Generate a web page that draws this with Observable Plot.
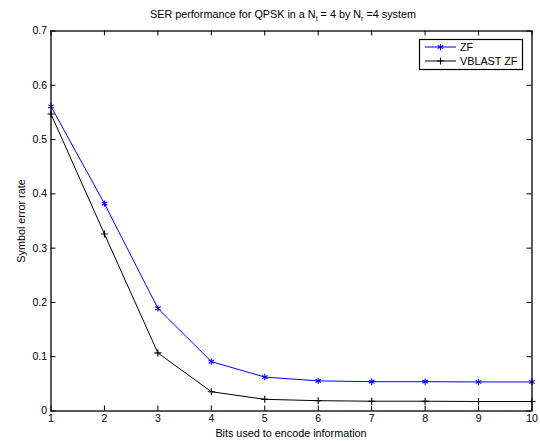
<!DOCTYPE html>
<html>
<head>
<meta charset="utf-8">
<script src="https://cdn.jsdelivr.net/npm/d3@7"></script>
<script src="https://cdn.jsdelivr.net/npm/@observablehq/plot@0.6"></script>
<style>
  html, body { margin: 0; padding: 0; background: #fff; }
  #chart { position: relative; width: 540px; height: 441px; }
  svg { font-family: "Liberation Sans", Arial, Helvetica, sans-serif; }
</style>
</head>
<body>
<div id="chart"></div>
<script>
const bits = [1, 2, 3, 4, 5, 6, 7, 8, 9, 10];
const serZF = [0.561, 0.382, 0.189, 0.091, 0.0625, 0.0555, 0.0540, 0.0540, 0.0535, 0.0535];
const serVBLAST = [0.547, 0.326, 0.107, 0.0355, 0.0215, 0.0190, 0.0180, 0.0180, 0.0175, 0.0175];
const xTicks = [1, 2, 3, 4, 5, 6, 7, 8, 9, 10];
const yTicks = [0, 0.1, 0.2, 0.3, 0.4, 0.5, 0.6, 0.7];
const seriesNames = ["ZF", "VBLAST ZF"];
const seriesColors = ["#0000ff", "#000000"];
const seriesSymbols = ["asterisk", "plus"];
const symbolR = [3.0, 2.4];

const data = [];
bits.forEach((b, i) => {
  data.push({bits: b, ser: serZF[i], series: seriesNames[0]});
  data.push({bits: b, ser: serVBLAST[i], series: seriesNames[1]});
});

const fmtY = d => d === 0 ? "0" : d3.format(".1f")(d);

const W = 540, H = 441, mL = 50.5, mR = 8.5, mT = 30.5, mB = 30.5;
const fw = W - mL - mR, fh = H - mT - mB, tk = 5;

const plot = Plot.plot({
  width: W,
  height: H,
  marginLeft: mL,
  marginRight: mR,
  marginTop: mT,
  marginBottom: mB,
  style: {fontSize: "10px", fontFamily: "'Liberation Sans', Arial, Helvetica, sans-serif", background: "#fff", color: "#000"},
  x: {domain: [1, 10], label: null},
  y: {domain: [0, 0.7], label: null},
  color: {domain: seriesNames, range: seriesColors},
  symbol: {domain: seriesNames, range: seriesSymbols},
  marks: [
    // inward ticks on all four sides
    Plot.ruleX(xTicks, {x: d => d, insetTop: fh - tk, stroke: "#000", strokeWidth: 1}),
    Plot.ruleX(xTicks, {x: d => d, insetBottom: fh - tk, stroke: "#000", strokeWidth: 1}),
    Plot.ruleY(yTicks, {y: d => d, insetRight: fw - tk, stroke: "#000", strokeWidth: 1}),
    Plot.ruleY(yTicks, {y: d => d, insetLeft: fw - tk, stroke: "#000", strokeWidth: 1}),
    Plot.axisX(xTicks, {anchor: "bottom", tickSize: 0, tickPadding: 4, tickFormat: d => String(d), fill: "#000", fontSize: 10.5}),
    Plot.axisY(yTicks, {anchor: "left", tickSize: 0, tickPadding: 4, tickFormat: fmtY, fill: "#000", fontSize: 10.5}),
    Plot.line(data, {x: "bits", y: "ser", z: "series", stroke: "series", strokeWidth: 1}),
    ...seriesNames.map((name, i) =>
      Plot.dot(data.filter(d => d.series === name), {x: "bits", y: "ser", symbol: "series", stroke: "series", r: symbolR[i], strokeWidth: 1.1})
    ),
    Plot.frame({stroke: "#000", strokeWidth: 1.3})
  ]
});

const svg = d3.select(plot);

// Title with subscripts
const title = svg.append("text")
  .attr("x", 283).attr("y", 18)
  .attr("text-anchor", "middle")
  .attr("font-size", 10.8)
  .attr("fill", "#000");
title.append("tspan").text("SER performance for QPSK in a N");
title.append("tspan").attr("font-size", 7).attr("dy", 3).text("t");
title.append("tspan").attr("dy", -3).text(" = 4 by N");
title.append("tspan").attr("font-size", 7).attr("dy", 3).text("r");
title.append("tspan").attr("dy", -3).text(" =4 system");

svg.append("text")
  .attr("x", 291).attr("y", 437)
  .attr("text-anchor", "middle")
  .attr("font-size", 10.8)
  .attr("fill", "#000")
  .text("Bits used to encode information");

svg.append("text")
  .attr("transform", "translate(25,221) rotate(-90)")
  .attr("text-anchor", "middle")
  .attr("font-size", 10.8)
  .attr("fill", "#000")
  .text("Symbol error rate");

// Legend
const lg = svg.append("g").attr("text-anchor", "start");
lg.append("rect")
  .attr("x", 419.5).attr("y", 39.5).attr("width", 103).attr("height", 30)
  .attr("fill", "#fff").attr("stroke", "#000").attr("stroke-width", 1.2);
seriesNames.forEach((name, i) => {
  const y = 47 + i * 14;
  lg.append("line").attr("x1", 425).attr("x2", 456).attr("y1", y).attr("y2", y)
    .attr("stroke", seriesColors[i]).attr("stroke-width", 1);
  const sym = (seriesSymbols[i] === "asterisk" ? d3.symbolAsterisk : d3.symbolPlus);
  lg.append("path").attr("d", d3.symbol(sym, Math.PI * symbolR[i] * symbolR[i])())
    .attr("transform", `translate(440.5,${y})`)
    .attr("fill", "none").attr("stroke", seriesColors[i]).attr("stroke-width", 1.1);
  lg.append("text").attr("x", 460).attr("y", y + 3.7)
    .attr("text-anchor", "start")
    .attr("font-size", 10.8).attr("fill", "#000").text(name);
});

document.getElementById("chart").appendChild(plot);
</script>
</body>
</html>
